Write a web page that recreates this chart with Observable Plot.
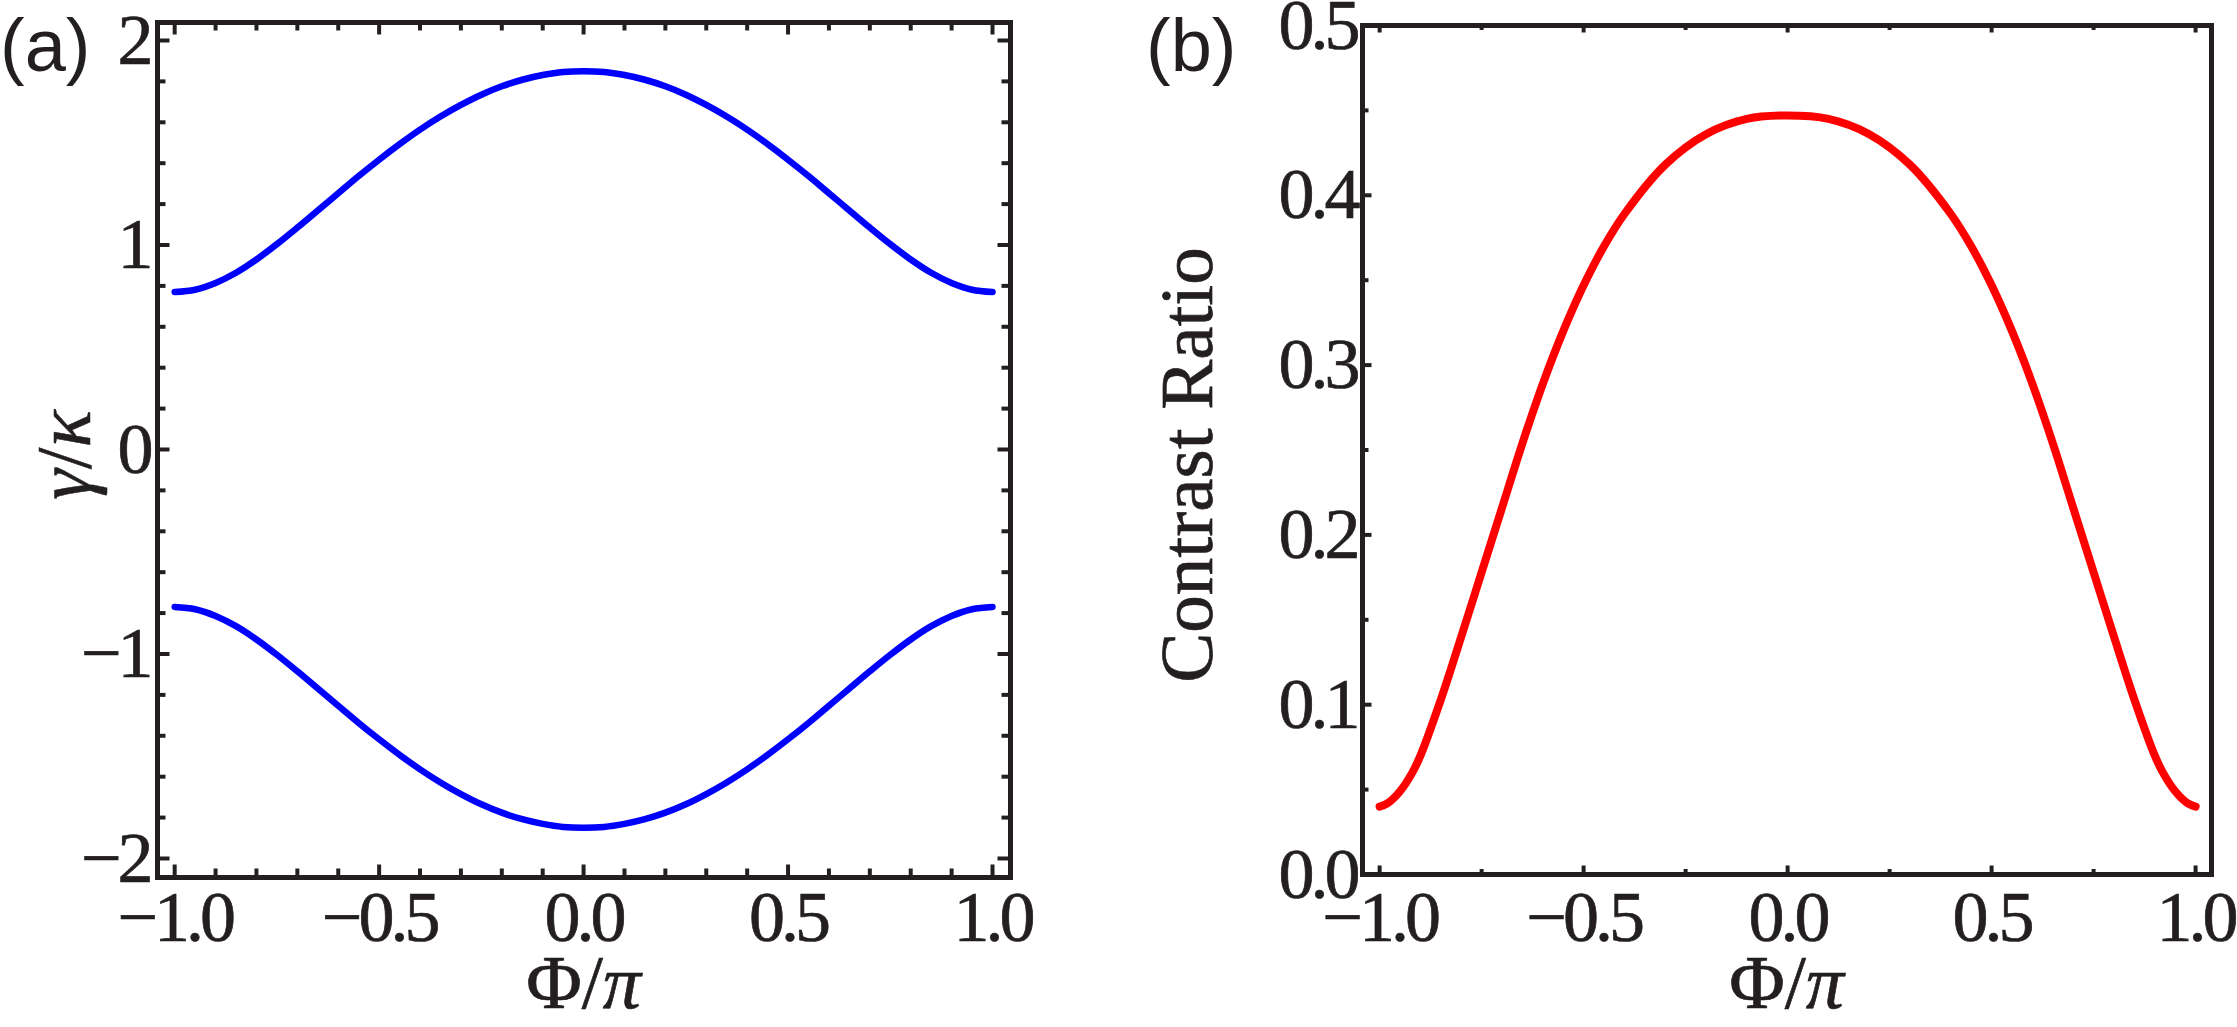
<!DOCTYPE html>
<html><head><meta charset="utf-8">
<script src="https://cdn.jsdelivr.net/npm/d3@7"></script>
<script src="https://cdn.jsdelivr.net/npm/@observablehq/plot@0.6"></script>
<style>
html,body{margin:0;padding:0;background:#fff;overflow:hidden;}
#wrap{position:relative;width:2237px;height:1027px;overflow:hidden;background:#fff;}
#pa{position:absolute;left:0;top:0;width:1100px;height:1027px;}
#pb{position:absolute;left:1100px;top:0;width:1137px;height:1027px;}
.tl text{letter-spacing:-4px;stroke:#231f20;stroke-width:0.7px;}
</style></head><body><div id="wrap"><div id="pa"></div><div id="pb"></div></div>
<script>
// ---------- data ----------
const phiA = [-1, -0.95, -0.9, -0.85, -0.8, -0.75, -0.7, -0.65, -0.6, -0.55, -0.5, -0.45, -0.4, -0.35, -0.3, -0.25, -0.2, -0.15, -0.1, -0.05, 0,
              0.05, 0.1, 0.15, 0.2, 0.25, 0.3, 0.35, 0.4, 0.45, 0.5, 0.55, 0.6, 0.65, 0.7, 0.75, 0.8, 0.85, 0.9, 0.95, 1];
const gammaUpper = [0.770, 0.781, 0.814, 0.864, 0.929, 1.004, 1.085, 1.169, 1.253, 1.337, 1.417, 1.493, 1.564, 1.628, 1.685, 1.735, 1.776, 1.808, 1.831, 1.846, 1.850,
                    1.846, 1.831, 1.808, 1.776, 1.735, 1.685, 1.628, 1.564, 1.493, 1.417, 1.337, 1.253, 1.169, 1.085, 1.004, 0.929, 0.864, 0.814, 0.781, 0.770];
const gammaLower = [-0.770, -0.781, -0.814, -0.864, -0.929, -1.004, -1.085, -1.169, -1.253, -1.337, -1.417, -1.493, -1.564, -1.628, -1.685, -1.735, -1.776, -1.808, -1.831, -1.846, -1.850,
                    -1.846, -1.831, -1.808, -1.776, -1.735, -1.685, -1.628, -1.564, -1.493, -1.417, -1.337, -1.253, -1.169, -1.085, -1.004, -0.929, -0.864, -0.814, -0.781, -0.770];

const phiB = [-1, -0.98, -0.95, -0.92, -0.9, -0.85, -0.8, -0.75, -0.7, -0.65, -0.6, -0.55, -0.5, -0.45, -0.4, -0.3, -0.2, -0.1, 0,
              0.1, 0.2, 0.3, 0.4, 0.45, 0.5, 0.55, 0.6, 0.65, 0.7, 0.75, 0.8, 0.85, 0.9, 0.92, 0.95, 0.98, 1];
const contrast = [0.040, 0.042, 0.049, 0.060, 0.070, 0.103, 0.140, 0.178, 0.216, 0.254, 0.289, 0.320, 0.347, 0.370, 0.389, 0.418, 0.436, 0.445, 0.447,
                  0.445, 0.436, 0.418, 0.389, 0.370, 0.347, 0.320, 0.289, 0.254, 0.216, 0.178, 0.140, 0.103, 0.070, 0.060, 0.049, 0.042, 0.040];

const xMajor = [-1, -0.5, 0, 0.5, 1];
const xMinorA = [-0.9, -0.8, -0.7, -0.6, -0.4, -0.3, -0.2, -0.1, 0.1, 0.2, 0.3, 0.4, 0.6, 0.7, 0.8, 0.9];
const yMajorA = [-2, -1, 0, 1, 2];
const yMinorA = [-1.8, -1.6, -1.4, -1.2, -0.8, -0.6, -0.4, -0.2, 0.2, 0.4, 0.6, 0.8, 1.2, 1.4, 1.6, 1.8];
const xMinorB = [-0.75, -0.25, 0.25, 0.75];
const yMajorB = [0, 0.1, 0.2, 0.3, 0.4, 0.5];
const yMinorB = [0.05, 0.15, 0.25, 0.35, 0.45];

// ---------- styling ----------
const INK = "#231f20";
const SERIF = "'Liberation Serif', 'Times New Roman', Times, serif";
const SANS = "'Liberation Sans', Arial, Helvetica, sans-serif";
const H = 1027;

const upperRows = phiA.map((p, i) => ({phi: p, g: gammaUpper[i]}));
const lowerRows = phiA.map((p, i) => ({phi: p, g: gammaLower[i]}));
const contrastRows = phiB.map((p, i) => ({phi: p, c: contrast[i]}));

function ticksX(vals, fh, len, where, sw) {
  return Plot.tickX(vals, {x: d => d, stroke: INK, strokeWidth: sw,
    insetTop: where === "bottom" ? fh - len : 0,
    insetBottom: where === "top" ? fh - len : 0});
}
function ticksY(vals, fw, len, where, sw) {
  return Plot.tickY(vals, {y: d => d, stroke: INK, strokeWidth: sw,
    insetRight: where === "left" ? fw - len : 0,
    insetLeft: where === "right" ? fw - len : 0});
}

// ---------- panel (a) ----------
const WA = 1100;
const fa = {top: 22, bottom: 877, left: 157, right: 1010};
const fhA = fa.bottom - fa.top, fwA = fa.right - fa.left;
const plotA = Plot.plot({
  width: WA, height: H,
  marginLeft: fa.left, marginRight: WA - fa.right, marginTop: fa.top, marginBottom: H - fa.bottom,
  x: {domain: [-1.042, 1.044]},
  y: {domain: [-2.093, 2.088]},
  style: {fontFamily: SERIF, fontSize: "72px", color: INK, background: "white", overflow: "visible"},
  marks: [
    Plot.line(upperRows, {x: "phi", y: "g", stroke: "#0000ff", strokeWidth: 6.5, curve: "catmull-rom"}),
    Plot.line(lowerRows, {x: "phi", y: "g", stroke: "#0000ff", strokeWidth: 6.5, curve: "catmull-rom"}),
    ticksX(xMajor, fhA, 12.5, "bottom", 4), ticksX(xMinorA, fhA, 8.5, "bottom", 4),
    ticksX(xMajor, fhA, 12.5, "top", 4), ticksX(xMinorA, fhA, 8.5, "top", 4),
    ticksY(yMajorA, fwA, 12.5, "left", 4), ticksY(yMinorA, fwA, 8.5, "left", 4),
    ticksY(yMajorA, fwA, 12.5, "right", 4), ticksY(yMinorA, fwA, 8.5, "right", 4),
    Plot.frame({stroke: INK, strokeWidth: 5}),
    Plot.axisX(xMajor, {anchor: "bottom", tickSize: 0, tickPadding: 12, tickFormat: d3.format(".1f"), label: null, fill: INK, className: "tl"}),
    Plot.axisY(yMajorA, {anchor: "left", tickSize: 0, tickPadding: 8, tickFormat: d3.format("d"), label: null, fill: INK, className: "tl"})
  ]
});
document.getElementById("pa").appendChild(plotA);

// ---------- panel (b) ----------
const WB = 1137, OFFB = 1100;
const fb = {top: 25, bottom: 874, left: 1362 - OFFB, right: 2211 - OFFB};
const fhB = fb.bottom - fb.top, fwB = fb.right - fb.left;
const plotB = Plot.plot({
  width: WB, height: H,
  marginLeft: fb.left, marginRight: WB - fb.right, marginTop: fb.top, marginBottom: H - fb.bottom,
  x: {domain: [-1.042, 1.039]},
  y: {domain: [0, 0.5]},
  style: {fontFamily: SERIF, fontSize: "72px", color: INK, background: "white", overflow: "visible"},
  marks: [
    Plot.line(contrastRows, {x: "phi", y: "c", stroke: "#ff0000", strokeWidth: 8, curve: "catmull-rom"}),
    ticksX(xMajor, fhB, 8.5, "bottom", 4), ticksX(xMinorB, fhB, 5, "bottom", 4),
    ticksX(xMajor, fhB, 7.5, "top", 4), ticksX(xMinorB, fhB, 5, "top", 4),
    ticksY(yMajorB, fwB, 9.5, "left", 4), ticksY(yMinorB, fwB, 6.5, "left", 4),
    Plot.frame({stroke: INK, strokeWidth: 5}),
    Plot.axisX(xMajor, {anchor: "bottom", tickSize: 0, tickPadding: 15, tickFormat: d3.format(".1f"), label: null, fill: INK, className: "tl"}),
    Plot.axisY(yMajorB, {anchor: "left", tickSize: 0, tickPadding: 6, tickFormat: d3.format(".1f"), label: null, fill: INK, className: "tl"})
  ]
});
document.getElementById("pb").appendChild(plotB);

// ---------- labels (real text) ----------
function panelLabel(svg, x, txt) {
  d3.select(svg).append("text").attr("x", x).attr("y", 71).attr("text-anchor", "start")
    .attr("font-family", SANS).attr("font-size", 74).attr("fill", INK).text(txt);
}
panelLabel(plotA, 0, "(a)");
panelLabel(plotB, 1146 - OFFB, "(b)");

function phiLabel(svg, cx) {
  const t = d3.select(svg).append("text").attr("x", cx).attr("y", 1008)
    .attr("text-anchor", "middle").attr("font-family", SERIF).attr("font-size", 76).attr("fill", INK)
    .attr("stroke", INK).attr("stroke-width", 0.7);
  t.append("tspan").text("Φ/");
  t.append("tspan").attr("font-style", "italic").text("π");
}
phiLabel(plotA, (fa.left + fa.right) / 2);
phiLabel(plotB, (fb.left + fb.right) / 2);

const gl = d3.select(plotA).append("text").attr("transform", "translate(90,455) rotate(-90)")
  .attr("text-anchor", "middle").attr("font-family", SERIF).attr("font-size", 78).attr("fill", INK)
  .attr("stroke", INK).attr("stroke-width", 0.5);
gl.append("tspan").attr("font-style", "italic").text("γ");
gl.append("tspan").text("/");
gl.append("tspan").attr("font-style", "italic").text("κ");

d3.select(plotB).append("text").attr("transform", `translate(${1212 - OFFB},465) rotate(-90)`)
  .attr("text-anchor", "middle").attr("font-family", SERIF).attr("font-size", 75).attr("fill", INK)
  .attr("stroke", INK).attr("stroke-width", 0.7)
  .text("Contrast Ratio");
</script></body></html>
